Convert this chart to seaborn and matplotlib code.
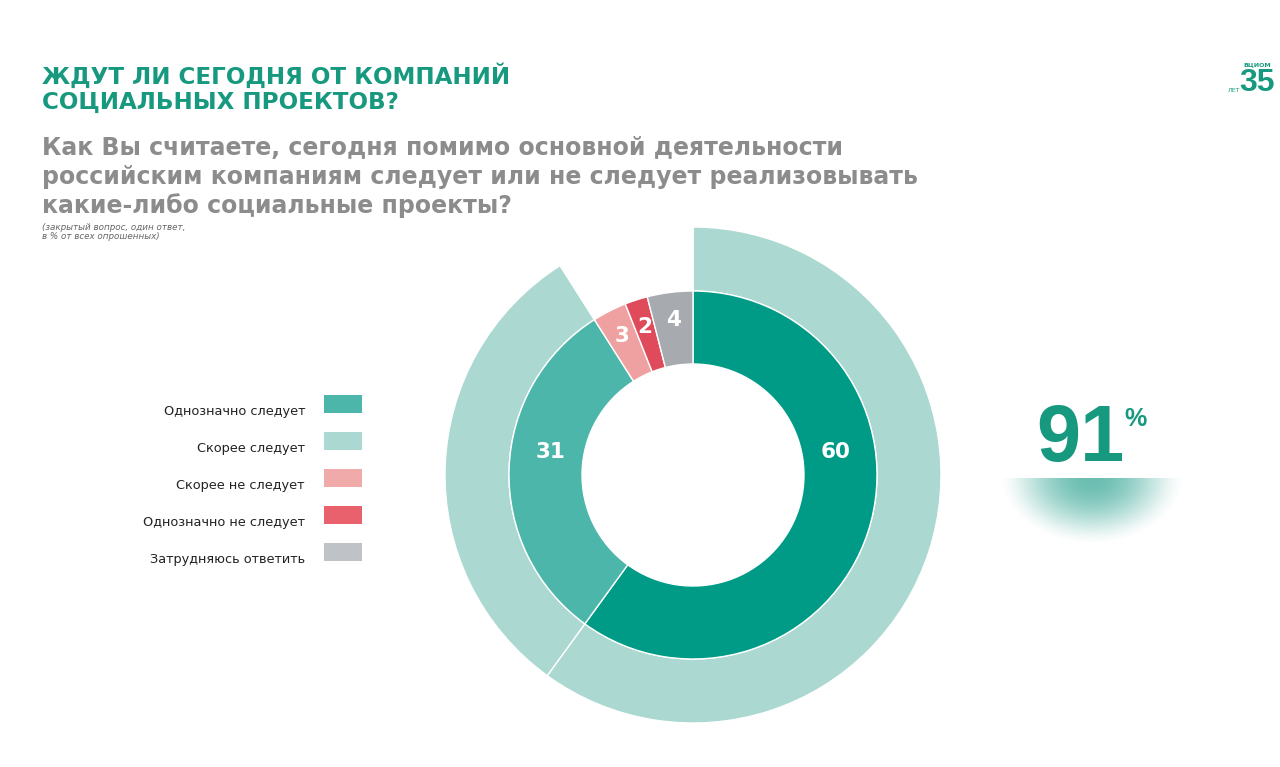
import matplotlib
matplotlib.use("Agg")
import matplotlib.pyplot as plt
import seaborn as sns
import numpy as np

sns.set_theme(style="white")
plt.rcParams['font.family'] = ['DejaVu Sans']

# --- data ---
categories = ["Однозначно следует", "Скорее следует", "Скорее не следует",
              "Однозначно не следует", "Затрудняюсь ответить"]
inner_values = [60, 31, 3, 2, 4]
outer_values = [60, 31, sum(inner_values[2:])]
total_yes = inner_values[0] + inner_values[1]

title = ["ЖДУТ ЛИ СЕГОДНЯ ОТ КОМПАНИЙ", "СОЦИАЛЬНЫХ ПРОЕКТОВ?"]
question = ["Как Вы считаете, сегодня помимо основной деятельности",
            "российским компаниям следует или не следует реализовывать",
            "какие-либо социальные проекты?"]
note = ["(закрытый вопрос, один ответ,", "в % от всех опрошенных)"]

# --- colours ---
TEAL = "#17997f"
inner_colors = ["#009b86", "#4db6aa", "#efa0a0", "#e04b5c", "#a7aaae"]
outer_colors = ["#abd8d0", "#abd8d0", "none"]
legend_colors = ["#4db6aa", "#abd8d0", "#f1aaaa", "#e8616d", "#bfc2c6"]

W, H = 1280, 767
fig = plt.figure(figsize=(W / 100, H / 100), dpi=100)
fig.patch.set_facecolor("white")

# full-figure axes in pixel coordinates for text / decorations
bg = fig.add_axes([0, 0, 1, 1])

# title
for i, line in enumerate(title):
    bg.text(42, 84 + i * 25, line, color=TEAL, fontsize=16.6, fontweight="bold", va="baseline")

# question
for i, line in enumerate(question):
    bg.text(42, 155 + i * 29, line, color="#8c8c8c", fontsize=17, fontweight="bold", va="baseline")
for i, line in enumerate(note):
    bg.text(42, 228 + i * 8.5, line, color="#666666", fontsize=6.3, style="italic", va="center")

# legend
for i, (lab, col) in enumerate(zip(categories, legend_colors)):
    yc = 404 + i * 37
    bg.add_patch(plt.Rectangle((324, yc - 9), 38, 18, color=col, lw=0))
    bg.text(305, yc + 11, lab, ha="right", va="baseline", fontsize=9.3, color="#222222")

# 91 %
bg.text(1036, 461, str(total_yes), color=TEAL, fontsize=57, fontweight="bold",
        family="Liberation Sans", va="baseline", ha="left")
bg.text(1124, 426, "%", color=TEAL, fontsize=18, fontweight="bold", family="Liberation Sans",
        va="baseline", ha="left")

# fading glow under the number
gx = np.linspace(-1, 1, 200)
gy = np.linspace(0, 1, 80)
XX, YY = np.meshgrid(gx, gy)
alpha = np.clip(1 - (XX ** 2 + YY ** 2), 0, 1) ** 1.6 * 0.75
rgba = np.zeros((80, 200, 4))
rgba[..., :3] = matplotlib.colors.to_rgb("#3aa898")
rgba[..., 3] = alpha
bg.imshow(rgba, extent=(1000, 1184, 545, 478), aspect="auto", interpolation="bilinear", zorder=1)

# logo
bg.text(1257, 65, "ВЦИОМ", color=TEAL, fontsize=4.5, fontweight="bold", ha="center", va="center")
bg.text(1257, 83, "35", color=TEAL, fontsize=23, fontweight="bold", family="Liberation Sans",
        ha="center", va="center")
bg.text(1234, 90, "ЛЕТ", color=TEAL, fontsize=4.5, ha="center", va="center")

bg.set_xlim(0, W)
bg.set_ylim(H, 0)
bg.axis("off")

# donut
cx, cy, half = 693, 475, 250
ax = fig.add_axes([(cx - half) / W, (H - cy - half) / H, 2 * half / W, 2 * half / H])

ax.pie(outer_values, radius=248, startangle=90, counterclock=False, colors=outer_colors,
       wedgeprops=dict(width=64, edgecolor="white", linewidth=1))
ax.pie(inner_values, radius=184, startangle=90, counterclock=False, colors=inner_colors,
       wedgeprops=dict(width=73, edgecolor="white", linewidth=1))

cum = np.cumsum(inner_values) - np.array(inner_values) / 2
mid_angles = 90 - cum / sum(inner_values) * 360
label_angles = [9, 171] + list(mid_angles[2:])
label_radius = [144, 144, 156, 156, 156]
for v, a, r in zip(inner_values, label_angles, label_radius):
    t = np.deg2rad(a)
    ax.text(r * np.cos(t), r * np.sin(t), str(v), color="white", fontsize=15.5,
            fontweight="bold", ha="center", va="center")

ax.set_xlim(-half, half)
ax.set_ylim(-half, half)
ax.set_aspect("equal")
ax.axis("off")

fig.savefig("out.png", dpi=100, facecolor="white")
